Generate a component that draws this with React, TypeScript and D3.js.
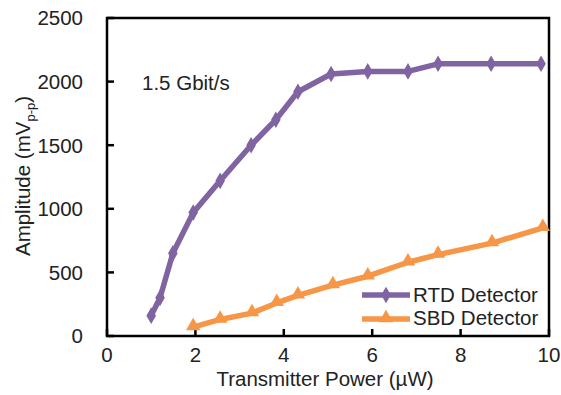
import React from "react";
import { scaleLinear, line, symbol, symbolDiamond, symbolTriangle } from "d3";

// transmitter power (uW) and amplitude (mVpp)
const rtdPower = [1.0, 1.2, 1.49, 1.95, 2.56, 3.26, 3.82, 4.32, 5.07, 5.9, 6.81, 7.49, 8.69, 9.82];
const rtdAmp = [160, 300, 650, 970, 1220, 1500, 1700, 1920, 2060, 2080, 2080, 2140, 2140, 2140];
const sbdPower = [1.95, 2.56, 3.28, 3.84, 4.32, 5.11, 5.9, 6.81, 7.49, 8.71, 9.86];
const sbdAmp = [70, 130, 180, 260, 320, 400, 470, 580, 640, 730, 850];

const xTicks = [0, 2, 4, 6, 8, 10];
const yTicks = [0, 500, 1000, 1500, 2000, 2500];

const purple = "#8064a2";
const orange = "#f79646";
const font = "'Liberation Sans', Arial, sans-serif";
const fs = 20.5;

function App() {
  const W = 561, H = 395;
  const x = scaleLinear().domain([0, 10]).range([107, 549]);
  const y = scaleLinear().domain([0, 2500]).range([336, 18]);

  const rtd = rtdPower.map((p, i) => [p, rtdAmp[i]]);
  const sbd = sbdPower.map((p, i) => [p, sbdAmp[i]]);
  const path = line<number[]>().x(d => x(d[0])).y(d => y(d[1]));

  const diamond = symbol().type(symbolDiamond).size(80)();
  const tri = symbol().type(symbolTriangle).size(90)();

  return (
    <svg width={W} height={H} style={{ position: "absolute", left: 0, top: 0 }} fontFamily={font}>
      {/* plot frame */}
      <rect x={x(0)} y={y(2500)} width={x(10) - x(0)} height={y(0) - y(2500)}
        fill="none" stroke="#000" strokeWidth={2.5} />
      {yTicks.map(t => (
        <g key={t}>
          <line x1={x(0)} x2={x(0) + 7} y1={y(t)} y2={y(t)} stroke="#000" strokeWidth={2.5} />
          <text x={x(0) - 24} y={y(t)} dy="0.36em" textAnchor="end" fontSize={fs} fill="#222">{t}</text>
        </g>
      ))}
      {xTicks.map(t => (
        <g key={t}>
          <line x1={x(t)} x2={x(t)} y1={y(0)} y2={y(0) - 7} stroke="#000" strokeWidth={2.5} />
          <text x={x(t)} y={y(0) + 26} textAnchor="middle" fontSize={fs} fill="#222">{t}</text>
        </g>
      ))}

      <path d={path(rtd) || ""} fill="none" stroke={purple} strokeWidth={5.5} strokeLinejoin="round" />
      {rtd.map((d, i) => (
        <path key={i} d={diamond} transform={`translate(${x(d[0])},${y(d[1])})`} fill={purple} />
      ))}
      <path d={path(sbd) || ""} fill="none" stroke={orange} strokeWidth={5.5} strokeLinejoin="round" />
      {sbd.map((d, i) => (
        <path key={i} d={tri} transform={`translate(${x(d[0])},${y(d[1]) - 1})`} fill={orange} />
      ))}

      {/* legend */}
      <line x1={362} x2={410} y1={295} y2={295} stroke={purple} strokeWidth={5.5} />
      <path d={diamond} transform="translate(386,295)" fill={purple} />
      <text x={413} y={295} dy="0.36em" fontSize={fs} fill="#222">RTD Detector</text>
      <line x1={362} x2={410} y1={319} y2={319} stroke={orange} strokeWidth={5.5} />
      <path d={tri} transform="translate(386,318)" fill={orange} />
      <text x={413} y={318} dy="0.36em" fontSize={fs} fill="#222">SBD Detector</text>

      <text x={142} y={90} fontSize={fs} fill="#222">1.5 Gbit/s</text>

      <text x={325} y={386} textAnchor="middle" fontSize={fs} fill="#222">Transmitter Power (µW)</text>
      <text transform="translate(30,176) rotate(-90)" textAnchor="middle" fontSize={fs} fill="#222">
        Amplitude (mV<tspan fontSize={13} dy={5}>p-p</tspan><tspan dy={-5}>)</tspan>
      </text>
    </svg>
  );
}

export default App;
